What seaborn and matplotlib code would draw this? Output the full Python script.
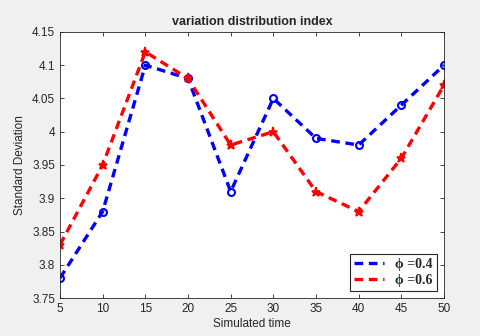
import pandas as pd
import seaborn as sns
import matplotlib.pyplot as plt

# simulated time steps and standard deviation values for two phi settings
sim_time = [5, 10, 15, 20, 25, 30, 35, 40, 45, 50]
std_phi04 = [3.78, 3.88, 4.10, 4.08, 3.91, 4.05, 3.99, 3.98, 4.04, 4.10]
std_phi06 = [3.83, 3.95, 4.12, 4.08, 3.98, 4.00, 3.91, 3.88, 3.96, 4.07]
yticks = [3.75, 3.8, 3.85, 3.9, 3.95, 4, 4.05, 4.1, 4.15]
ytick_labels = ['3.75', '3.8', '3.85', '3.9', '3.95', '4', '4.05', '4.1', '4.15']

df = pd.DataFrame({'time': sim_time, 'phi04': std_phi04, 'phi06': std_phi06})

sns.set_theme(style='ticks')
plt.rcParams['font.family'] = ['Liberation Sans', 'DejaVu Sans']

fig = plt.figure(figsize=(4.8, 3.36), dpi=100, facecolor='#f0f0f0')
ax = fig.add_axes([0.125, 0.113, 0.8, 0.792])
ax.set_facecolor('white')

sns.lineplot(data=df, x='time', y='phi04', ax=ax, color='#0000ff', lw=2.4,
             dashes=False, marker='o', markersize=5, markerfacecolor='none',
             markeredgecolor='#0000ff', markeredgewidth=1.5, label='ϕ =0.4')
sns.lineplot(data=df, x='time', y='phi06', ax=ax, color='#ff0000', lw=2.4,
             dashes=False, marker='*', markersize=6.5, markerfacecolor='#ff0000',
             markeredgecolor='#ff0000', markeredgewidth=1.2, label='ϕ =0.6')
for ln in ax.lines:
    ln.set_dashes((2.6, 1.7))

ax.set_xlim(5, 50)
ax.set_ylim(3.75, 4.15)
ax.set_xticks(sim_time)
ax.set_yticks(yticks)
ax.set_yticklabels(ytick_labels)
ax.tick_params(direction='in', top=True, right=True, labelsize=8.5, colors='#262626',
               length=3, width=0.6)
for s in ax.spines.values():
    s.set_color('#262626')
    s.set_linewidth(0.6)

ax.set_xlabel('Simulated time', fontsize=8.5, color='#262626', labelpad=2)
ax.set_ylabel('Standard Deviation', fontsize=8.5, color='#262626', labelpad=4)
ax.set_title('variation distribution index', fontsize=9, fontweight='bold', pad=5)

leg = ax.legend(loc='lower right', handlelength=2.2, fancybox=False, framealpha=1,
                edgecolor='#262626', borderpad=0.3, labelspacing=0.2,
                prop={'family': 'Liberation Serif', 'weight': 'bold', 'size': 10})
for h in leg.get_lines():
    h.set_marker('')
    h.set_dashes((2.6, 1.7))
leg.get_frame().set_linewidth(0.8)

plt.savefig('out.png', dpi=100, facecolor=fig.get_facecolor())
